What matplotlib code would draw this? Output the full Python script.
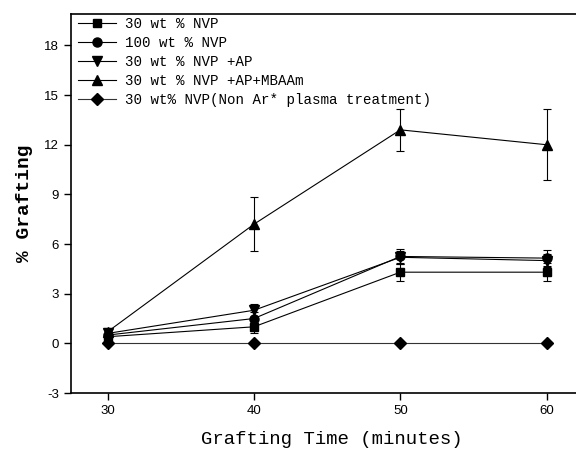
import matplotlib
matplotlib.use("Agg")
import matplotlib.pyplot as plt

plt.rcParams["axes.unicode_minus"] = False

time_min = [30, 40, 50, 60]
labels = ["30 wt % NVP", "100 wt % NVP", "30 wt % NVP +AP",
          "30 wt % NVP +AP+MBAAm", "30 wt% NVP(Non Ar* plasma treatment)"]
nvp30 = [0.4, 1.0, 4.3, 4.3]
nvp30_err = [0.15, 0.4, 0.55, 0.55]
nvp100 = [0.5, 1.5, 5.25, 5.15]
nvp100_err = [0.15, 0.4, 0.45, 0.5]
nvp30_ap = [0.6, 2.0, 5.2, 5.0]
nvp30_ap_err = [0.15, 0.4, 0.4, 0.4]
nvp30_ap_mbaam = [0.7, 7.2, 12.9, 12.0]
nvp30_ap_mbaam_err = [0.25, 1.65, 1.25, 2.15]
non_plasma = [0.0, 0.0, 0.0, 0.0]
non_plasma_err = [0.0, 0.0, 0.0, 0.0]

series = [
    (nvp30, nvp30_err, "s", 5.5, "black"),
    (nvp100, nvp100_err, "o", 6.5, "black"),
    (nvp30_ap, nvp30_ap_err, "v", 7, "black"),
    (nvp30_ap_mbaam, nvp30_ap_mbaam_err, "^", 7.5, "black"),
    (non_plasma, non_plasma_err, "D", 6, "#333333"),
]

fig = plt.figure(figsize=(5.76, 4.55), dpi=100)
ax = fig.add_axes([71/576, 1-393/455, 1-71/576, (393-14)/455])

for (vals, err, m, ms, lc), lab in zip(series, labels):
    ax.errorbar(time_min, vals, yerr=err, fmt="none", ecolor="black",
                elinewidth=0.8, capsize=3, capthick=0.8)
    ax.plot(time_min, vals, marker=m, color=lc, mfc="black", mec="black",
            markersize=ms, lw=0.8, label=lab)

ax.set_xlim(27.5, 62)
ax.set_ylim(-3, 19.9)
ax.set_xticks([30, 40, 50, 60])
ax.set_yticks([-3, 0, 3, 6, 9, 12, 15, 18])
ax.spines["right"].set_visible(False)
for s in ["left", "bottom", "top"]:
    ax.spines[s].set_linewidth(1.2)
ax.tick_params(direction="out", length=5, width=1, labelsize=9.5)
for t in ax.get_xticklabels() + ax.get_yticklabels():
    t.set_fontfamily("Liberation Sans")

ax.set_xlabel("Grafting Time (minutes)", fontfamily="Liberation Mono",
              fontsize=13.7)
ax.xaxis.set_label_coords((332 - 71) / (576 - 71), -0.1)
ax.xaxis.label.set_va("top")
ax.set_ylabel("% Grafting", fontfamily="Liberation Mono", fontsize=14,
              fontweight="bold", labelpad=8)

leg = ax.legend(loc="upper left", bbox_to_anchor=(0.008, 1.0), frameon=False,
                prop={"family": "Liberation Mono", "size": 10.2},
                handlelength=2.7, borderaxespad=0.0, labelspacing=0.36,
                handletextpad=0.6, borderpad=0.2)

fig.savefig("out.png", dpi=100)
